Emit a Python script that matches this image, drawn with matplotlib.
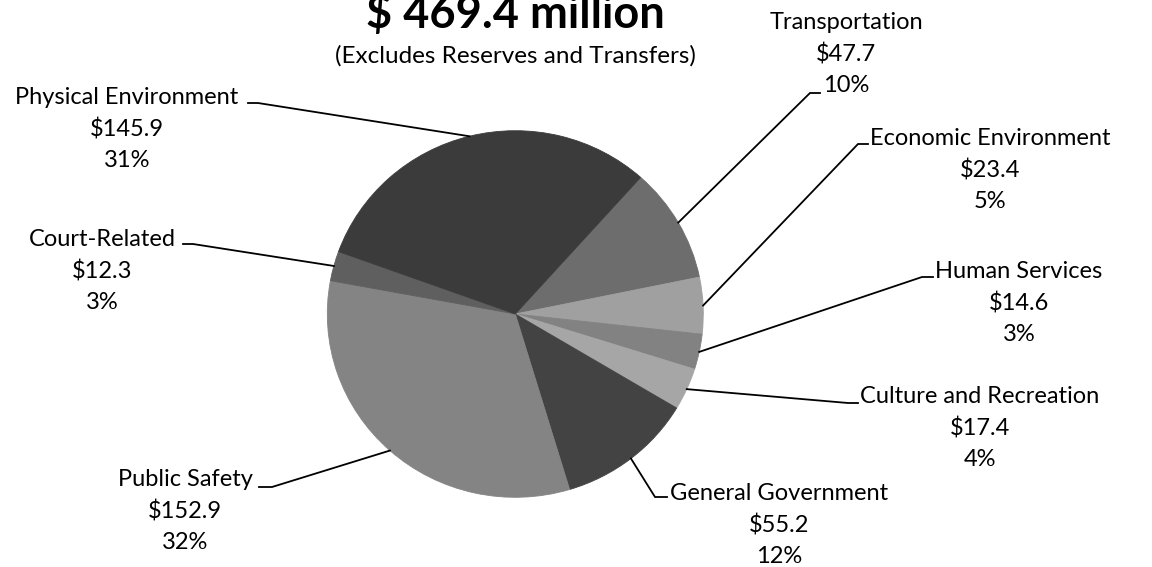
import numpy as np
import matplotlib.pyplot as plt

# budget by function, $ millions (clockwise order as drawn)
categories = ["Transportation", "Economic Environment", "Human Services",
              "Culture and Recreation", "General Government", "Public Safety",
              "Court-Related", "Physical Environment"]
amounts = [47.7, 23.4, 14.6, 17.4, 55.2, 152.9, 12.3, 145.9]
shares = ["10%", "5%", "3%", "4%", "12%", "32%", "3%", "31%"]
title = "$ 469.4 million"
subtitle = "(Excludes Reserves and Transfers)"

colors = ["#6d6d6d", "#a0a0a0", "#828282", "#a6a6a6",
          "#434343", "#848484", "#5f5f5f", "#3b3b3b"]

W, H = 1152, 567
CX, CY = 515.3, 314.0      # pie centre in pixels
RX, RY = 188.0, 183.3      # pie radii in pixels

# label block (centre of middle line) and leader elbow / end, in pixels
label_pos = [(846, 54), (990, 170), (1019, 303), (980, 428),
             (779, 525), (185, 511), (102, 271), (127, 129)]
leader_pts = [((810, 93), (820, 93)), ((858, 144), (868, 144)),
              ((922, 277), (933, 277)), ((848, 403), (858, 403)),
              ((655, 497), (667, 497)), ((272, 487), (259, 487)),
              ((193, 244), (183, 244)), ((258, 103), (248, 103))]

FONT = "Lato"


def px(x, y):
    # pixel position -> data units of the pie axes
    return (x - CX) / RX, (CY - y) / RY


def main():
    fig = plt.figure(figsize=(W / 100, H / 100), dpi=100)
    ax = fig.add_axes([0, 0, 1, 1])
    wedges, _ = ax.pie(amounts, colors=colors, startangle=90 - 41.8,
                       counterclock=False, radius=1,
                       wedgeprops=dict(linewidth=0.6))
    for w, c in zip(wedges, colors):
        w.set_edgecolor(c)
    ax.set_aspect("auto")
    ax.set_xlim(-CX / RX, (W - CX) / RX)
    ax.set_ylim(-(H - CY) / RY, CY / RY)
    ax.axis("off")

    for w, name, amt, pct, (lx, ly), (elbow, end) in zip(
            wedges, categories, amounts, shares, label_pos, leader_pts):
        mid = np.deg2rad((w.theta1 + w.theta2) / 2)
        sx, sy = np.cos(mid), np.sin(mid)
        ex, ey = px(*elbow)
        tx, ty = px(*end)
        ax.plot([sx, ex, tx], [sy, ey, ty], color="black", lw=1.3,
                solid_joinstyle="miter")
        ax.text(*px(lx, ly), f"{name}\n${amt:.1f}\n{pct}", ha="center",
                va="center", multialignment="center", fontsize=17.0,
                family=FONT, linespacing=1.55)

    ax.text(*px(515, 28), title, ha="center", va="baseline", fontsize=32.5,
            fontweight="bold", family=FONT)
    ax.text(*px(515, 56), subtitle, ha="center", va="center", fontsize=17.5,
            family=FONT)

    fig.savefig("out.png", dpi=100)


if __name__ == "__main__":
    main()
